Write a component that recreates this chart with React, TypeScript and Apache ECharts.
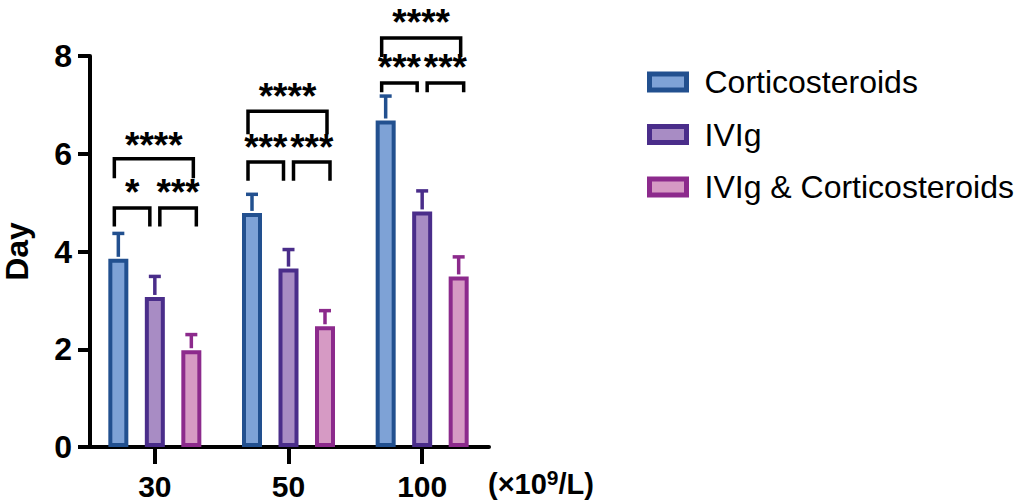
import React, { useEffect, useRef } from "react";
import * as echarts from "echarts";

const categories = ["30", "50", "100"];
const seriesNames = ["Corticosteroids", "IVIg", "IVIg & Corticosteroids"];
const corticoMean = [3.85, 4.79, 6.68];
const ivigMean = [3.07, 3.65, 4.82];
const comboMean = [1.98, 2.47, 3.49];
const corticoUpper = [4.37, 5.17, 7.18];
const ivigUpper = [3.49, 4.04, 5.24];
const comboUpper = [2.3, 2.79, 3.89];
const yTicks = [0, 2, 4, 6, 8];

// significance brackets
const bracketGroup = [0, 0, 0, 1, 1, 1, 2, 2, 2];
const bracketFrom = [0, 1, 0, 0, 1, 0, 0, 1, 0];
const bracketTo = [1, 2, 2, 1, 2, 2, 1, 2, 2];
const bracketTop = [4.89, 4.89, 5.9, 5.83, 5.83, 6.87, 7.45, 7.45, 8.37];
const bracketLeg = [4.51, 4.51, 5.5, 5.45, 5.45, 6.4, 7.26, 7.26, 7.98];
const bracketLabelY = [5.32, 5.32, 6.28, 6.24, 6.24, 7.29, 7.88, 7.88, 8.8];
const bracketLabel = ["*", "***", "****", "***", "***", "****", "***", "***", "****"];

const borderColors = ["#22508f", "#4a2d8a", "#8c2a8c"];
const fillColors = ["#7ea2d6", "#a88cc4", "#d69ac4"];

const BAR_W = 20;
const BAR_GAP = 0.825;
const SPACING = BAR_W * (1 + BAR_GAP);
const FONT = "'Liberation Sans', Arial, sans-serif";
const STAR_SIZE = 37;

export default function App() {
  const ref = useRef<HTMLDivElement>(null);
  useEffect(() => {
    if (!ref.current) return;
    const chart = echarts.init(ref.current, undefined, { renderer: "svg" });
    const means = [corticoMean, ivigMean, comboMean];
    const uppers = [corticoUpper, ivigUpper, comboUpper];
    const errData: number[][] = [];
    means.forEach((m, s) => m.forEach((v, c) => errData.push([c, s, v, uppers[s][c]])));
    const brData = bracketGroup.map((g, i) => [g, bracketFrom[i], bracketTo[i], bracketTop[i], bracketLeg[i], bracketLabelY[i], i]);

    const barSeries = seriesNames.map((name, s) => ({
      name,
      type: "bar",
      data: means[s],
      barWidth: BAR_W,
      barGap: `${BAR_GAP * 100}%`,
      itemStyle: { color: fillColors[s], borderColor: borderColors[s], borderWidth: 4 },
    }));

    chart.setOption({
      animation: false,
      grid: { left: 87, width: 402, top: 56, bottom: 56 },
      legend: {
        orient: "vertical",
        left: 642,
        top: 60,
        itemWidth: 37,
        itemHeight: 16,
        itemGap: 18.5,
        icon: "rect",
        data: seriesNames,
        itemStyle: { borderWidth: 5 },
        textStyle: { fontSize: 32, fontFamily: FONT, color: "#000", lineHeight: 34, padding: [0, 0, 0, 13] },
      },
      xAxis: {
        type: "category",
        data: categories,
        axisLine: { lineStyle: { color: "#000", width: 4 } },
        axisTick: { show: true, alignWithLabel: true, length: 17, lineStyle: { width: 4, color: "#000" } },
        axisLabel: { fontSize: 30, fontWeight: "bold", color: "#000", fontFamily: FONT, margin: 24 },
        name: "(×10{sup|9}/L)",
        nameLocation: "end",
        nameGap: -1,
        nameTextStyle: {
          fontSize: 29,
          fontWeight: "bold",
          color: "#000",
          fontFamily: FONT,
          align: "left",
          verticalAlign: "top",
          padding: [20, 0, 0, 0],
          rich: { sup: { fontSize: 21, fontWeight: "bold", fontFamily: FONT, color: "#000", padding: [0, 0, 12, 0] } },
        },
      },
      yAxis: {
        type: "value",
        min: 0,
        max: 8,
        interval: 2,
        offset: -2,
        splitLine: { show: false },
        axisLine: { show: true, lineStyle: { color: "#000", width: 4 } },
        axisTick: { show: true, length: 12, lineStyle: { width: 4, color: "#000" } },
        axisLabel: {
          fontSize: 32,
          fontWeight: "bold",
          color: "#000",
          fontFamily: FONT,
          margin: 18,
          formatter: (v: number) => (yTicks.includes(v) ? String(v) : ""),
        },
        name: "Day",
        nameLocation: "middle",
        nameGap: 57,
        nameTextStyle: { fontSize: 32, fontWeight: "bold", color: "#000", fontFamily: FONT },
      },
      series: [
        ...barSeries,
        {
          type: "custom",
          name: "err",
          data: errData,
          encode: { x: 0, y: 2 },
          z: 3,
          renderItem: (params: any, api: any) => {
            const c = api.value(0), s = api.value(1), m = api.value(2), u = api.value(3);
            const b = api.coord([c, m]);
            const t = api.coord([c, u]);
            const x = b[0] + (s - 1) * SPACING;
            const st = { stroke: borderColors[s], lineWidth: 3.5 };
            return {
              type: "group",
              children: [
                { type: "line", shape: { x1: x, y1: b[1] - 2, x2: x, y2: t[1] }, style: st },
                { type: "line", shape: { x1: x - 6, y1: t[1], x2: x + 6, y2: t[1] }, style: st },
              ],
            };
          },
        },
        {
          type: "custom",
          name: "sig",
          data: brData,
          encode: { x: 0, y: 3 },
          clip: false,
          z: 4,
          renderItem: (params: any, api: any) => {
            const g = api.value(0), f = api.value(1), t = api.value(2);
            const top = api.value(3), leg = api.value(4), ly = api.value(5), idx = api.value(6);
            const center = api.coord([g, top]);
            const cx = (k: number) => center[0] + (k - 1) * SPACING;
            const x1 = cx(f) + (f === 1 ? 5 : -4);
            const x2 = cx(t) + (t === 1 ? -5 : f === 0 ? 2 : 5);
            const yTop = center[1];
            const yLeg = api.coord([g, leg])[1];
            const yLab = api.coord([g, ly])[1];
            return {
              type: "group",
              children: [
                {
                  type: "polyline",
                  shape: { points: [[x1, yLeg], [x1, yTop], [x2, yTop], [x2, yLeg]] },
                  style: { stroke: "#000", lineWidth: 3.5, fill: "none" },
                },
                {
                  type: "text",
                  x: (x1 + x2) / 2,
                  y: yLab + STAR_SIZE * 0.15,
                  style: {
                    text: bracketLabel[idx],
                    fontSize: STAR_SIZE,
                    fontWeight: "bold",
                    fontFamily: FONT,
                    fill: "#000",
                    align: "center",
                    verticalAlign: "middle",
                  },
                },
              ],
            };
          },
        },
      ],
    });
    return () => chart.dispose();
  }, []);
  return <div ref={ref} style={{ position: "absolute", left: 0, top: 0, width: 1024, height: 503 }} />;
}
